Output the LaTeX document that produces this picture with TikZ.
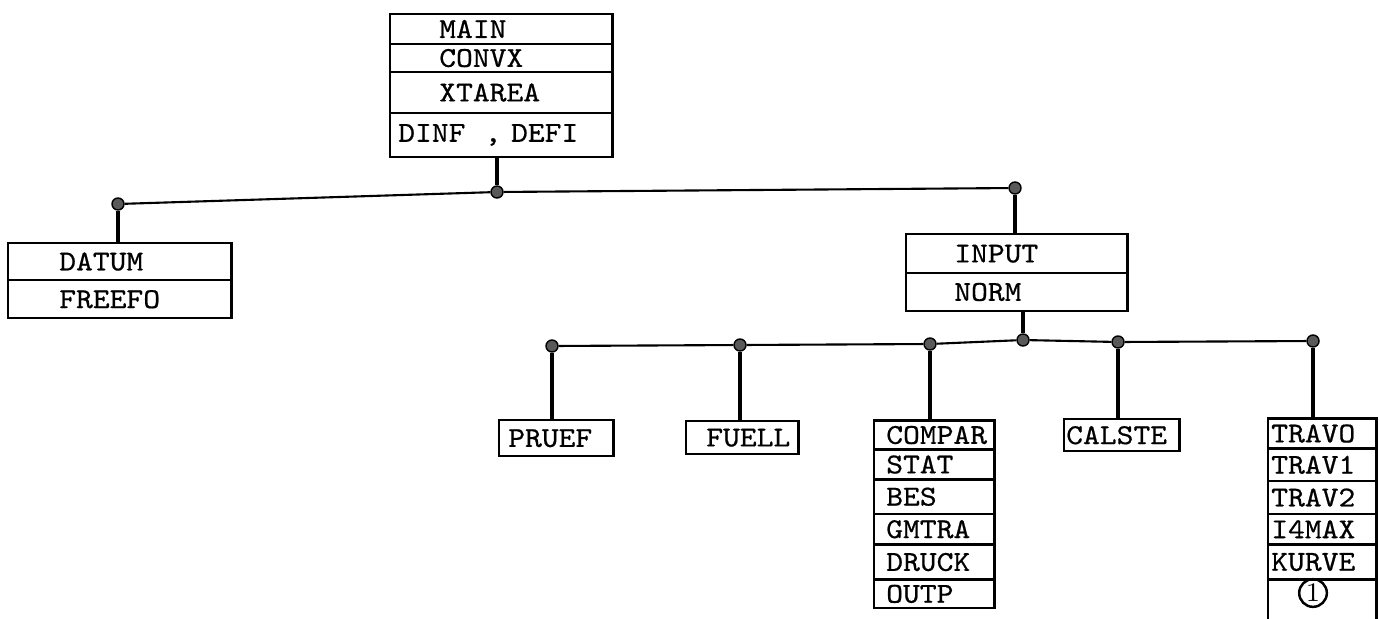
\documentclass[tikz,border=0pt]{standalone}
\usepackage{fontspec}
\usetikzlibrary{positioning,calc}
\newfontfamily\boxfont[FakeBold=0.6,FakeStretch=1.11]{lmmono10-regular.otf}

\begin{document}
\begin{tikzpicture}[
  x=0.01cm,y=-0.01cm,
  row/.style={draw,line width=0.7pt,anchor=north west,inner ysep=0pt,align=left,
    font=\boxfont\fontsize{8.2}{9}\selectfont},
  dot/.style={circle,draw=black,fill=black!65,inner sep=0pt,minimum size=0.12cm},
  link/.style={line width=0.6pt},
  stem/.style={line width=0.9pt}
]
\useasboundingbox (0,0) rectangle (1380,618);

% ---- top box ----
\foreach \t/\y/\h [count=\i] in {MAIN/12.7/30,CONVX/42.7/28.3,XTAREA/71/40.7} {
  \node[row,inner xsep=0.49cm,text width=1.24cm,minimum height=\h*0.01cm] (main-\i) at (389,\y) {\t};}
\node[row,inner xsep=0.08cm,text width=2.06cm,minimum height=0.44cm] (main-4) at (389,111.7) {DINF \ , DEFI};

% ---- first level ----
\node[dot] (dL) at (118,204) {};
\node[dot] (dM) at (497,192) {};
\node[dot] (dR) at (1015,188) {};
\draw[stem] (dM |- main-4.south) -- (dM);
\draw[link] (dL) -- (dM) -- (dR);

\node[row,inner xsep=0.51cm,text width=1.21cm,minimum height=0.373cm] (datum-1) at (7,241.7) {DATUM};
\node[row,inner xsep=0.51cm,text width=1.21cm,minimum height=0.38cm] (datum-2) at (7,279) {FREEFO};
\draw[stem] (dL) -- (dL |- datum-1.north);

\node[row,inner xsep=0.48cm,text width=1.25cm,minimum height=0.39cm] (input-1) at (905,233) {INPUT};
\node[row,inner xsep=0.48cm,text width=1.25cm,minimum height=0.375cm] (input-2) at (905,272) {NORM};
\draw[stem] (dR) -- (dR |- input-1.north);

% ---- second level ----
\node[dot] (d1) at (552,346) {};
\node[dot] (d2) at (740,345) {};
\node[dot] (d3) at (930,344) {};
\node[dot] (dI) at (1023,340) {};
\node[dot] (d4) at (1118,342) {};
\node[dot] (d5) at (1313,341) {};
\draw[stem] (dI |- input-2.south) -- (dI);
\draw[link] (d1) -- (d2) -- (d3) -- (dI) -- (d4) -- (d5);

\node[row,inner xsep=0.09cm,text width=0.96cm,minimum height=0.36cm] (pruef) at (498,419) {PRUEF};
\node[row,inner xsep=0.08cm,text width=0.96cm,minimum height=0.33cm,align=right] (fuell) at (685,420) {FUELL};
\node[row,inner xsep=0.02cm,text width=1.11cm,minimum height=0.32cm] (calste) at (1063,418) {CALSTE};

\foreach \t/\y/\h [count=\i] in {COMPAR/419.3/29,STAT/448.3/30,BES/478.3/34.4,GMTRA/512.7/30.6,DRUCK/543.3/35,OUTP/578.3/28.7} {
  \node[row,inner xsep=0.12cm,text width=0.96cm,minimum height=\h*0.01cm] (comp-\i) at (873,\y) {\t};}

\foreach \t/\y/\h [count=\i] in {TRAVO/417.3/30,TRAV1/447.3/32.7,TRAV2/480/32.7,I4MAX/512.7/30.6,KURVE/543.3/35,{}/578.3/45} {
  \node[row,inner xsep=0.03cm,text width=1.02cm,minimum height=\h*0.01cm] (trav-\i) at (1267,\y) {\t};}
\node[circle,draw,line width=0.7pt,inner sep=0.5pt,minimum size=0.21cm,font=\fontsize{7.6}{8}\selectfont] (cir) at (1313,593) {1};

\draw[stem] (d1) -- (d1 |- pruef.north);
\draw[stem] (d2) -- (d2 |- fuell.north);
\draw[stem] (d3) -- (d3 |- comp-1.north);
\draw[stem] (d4) -- (d4 |- calste.north);
\draw[stem] (d5) -- (d5 |- trav-1.north);
\end{tikzpicture}
\end{document}
